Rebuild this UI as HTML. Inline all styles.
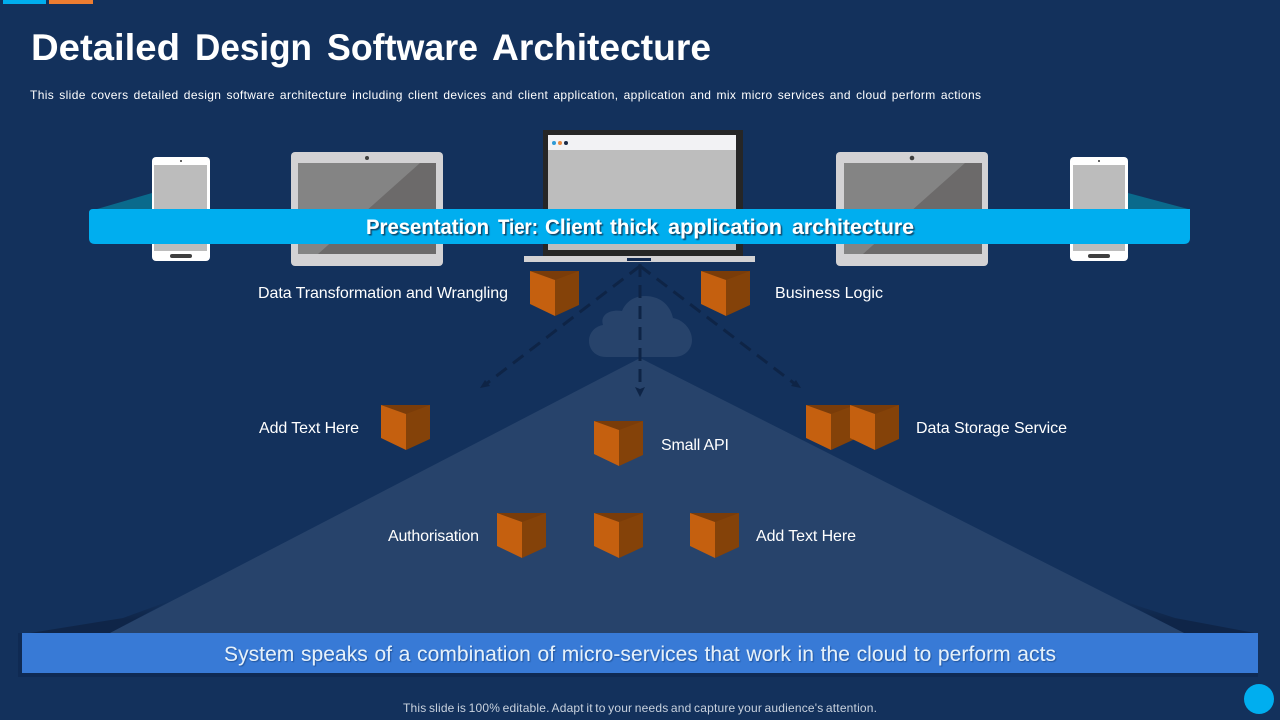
<!DOCTYPE html>
<html>
<head>
<meta charset="utf-8">
<style>
html,body{margin:0;padding:0;width:1280px;height:720px;overflow:hidden;background:#13315c}
svg{display:block}
text{font-family:"Liberation Sans",sans-serif;fill:#fff}
</style>
</head>
<body>
<svg width="1280" height="720" viewBox="0 0 1280 720" xmlns="http://www.w3.org/2000/svg">
<defs>
<g id="cube">
  <polygon points="0,0 49,0 49,34 25,45 25,9" fill="#844209"/>
  <polygon points="0,0 49,0 25,9" fill="#7a3c09"/>
  <polygon points="0,0 25,9 25,45 0,33" fill="#c5600f"/>
</g>
<linearGradient id="sh" x1="0" y1="0" x2="0" y2="1">
  <stop offset="0" stop-color="#13315c"/>
  <stop offset="0.6" stop-color="#0f2548"/>
</linearGradient>
<filter id="ds" x="-5%" y="-30%" width="110%" height="170%">
  <feDropShadow dx="1.5" dy="1.5" stdDeviation="0.6" flood-color="#0b3a5c" flood-opacity="0.9"/>
</filter>
<filter id="ds2" x="-5%" y="-30%" width="110%" height="170%">
  <feDropShadow dx="1" dy="1" stdDeviation="0.6" flood-color="#1d4f96" flood-opacity="0.9"/>
</filter>
</defs>

<rect width="1280" height="720" fill="#13315c"/>
<rect x="3" y="0" width="43" height="4" fill="#00aeef"/>
<rect x="49" y="0" width="44" height="4" fill="#ed7d31"/>

<g font-size="37" font-weight="bold">
<text x="31" y="60" textLength="149" lengthAdjust="spacingAndGlyphs">Detailed</text>
<text x="195" y="60" textLength="117" lengthAdjust="spacingAndGlyphs">Design</text>
<text x="327" y="60" textLength="151" lengthAdjust="spacingAndGlyphs">Software</text>
<text x="492" y="60" textLength="219" lengthAdjust="spacingAndGlyphs">Architecture</text>
</g>
<text x="30" y="99" font-size="12" word-spacing="1.5" textLength="951">This slide covers detailed design software architecture including client devices and client application, application and mix micro services and cloud perform actions</text>

<!-- shadows behind pyramid -->
<path d="M30,633 L123,618 L172,600 L110,633 Z" fill="url(#sh)"/>
<path d="M1255,633 L1175,618 L1120,600 L1184,633 Z" fill="url(#sh)"/>
<!-- pyramid -->
<polygon points="640,358 110,633 1184,633" fill="#27436b"/>
<!-- cloud -->
<path d="M606,357 C595,357 589,349 589,341 C589,332 596,326 603,325 C600,316 608,309 622,311 C626,301 635,296 645,296 C659,296 670,304 673,318 C684,320 692,330 692,340 C692,350 684,357 674,357 Z" fill="#27436b"/>

<!-- dashed arrows -->
<g stroke="#0e2446" stroke-width="3" fill="none" stroke-dasharray="13 8">
  <line x1="640" y1="266" x2="486" y2="384"/>
  <line x1="640" y1="266" x2="795" y2="384"/>
  <line x1="640" y1="264" x2="640" y2="390"/>
</g>
<polygon points="480,388 485,380 490,386" fill="#0e2446"/>
<polygon points="801,388 796,380 791,386" fill="#0e2446"/>
<polygon points="640,397 635,387 640,389 645,387" fill="#0e2446"/>

<!-- left teal wedge, right teal wedge -->
<polygon points="97,209 152,193 152,209" fill="#0a6a8c"/>
<polygon points="1128,193 1188,209 1128,209" fill="#0a6a8c"/>

<!-- left phone -->
<rect x="152" y="157" width="58" height="104" rx="4" fill="#fff"/>
<rect x="154" y="165" width="53" height="86" fill="#bcbcbc"/>
<circle cx="181" cy="161" r="1" fill="#333"/>
<rect x="170" y="254" width="22" height="4" rx="2" fill="#3f3f3f"/>
<!-- right phone -->
<rect x="1070" y="157" width="58" height="104" rx="4" fill="#fff"/>
<rect x="1073" y="165" width="52" height="86" fill="#bcbcbc"/>
<circle cx="1099" cy="161" r="1" fill="#333"/>
<rect x="1088" y="254" width="22" height="4" rx="2" fill="#3f3f3f"/>

<!-- left tablet -->
<rect x="291" y="152" width="152" height="114" rx="4" fill="#d3d2d4"/>
<rect x="298" y="163" width="138" height="91" fill="#848484"/>
<polygon points="420,163 436,163 436,254 318,254" fill="#6c6a6a"/>
<circle cx="367" cy="158" r="2" fill="#3f3f3f"/>
<!-- right tablet -->
<rect x="836" y="152" width="152" height="114" rx="4" fill="#d3d2d4"/>
<rect x="844" y="163" width="138" height="91" fill="#848484"/>
<polygon points="965,163 982,163 982,254 863,254" fill="#6c6a6a"/>
<circle cx="912" cy="158" r="2.3" fill="#3f3f3f"/>

<!-- laptop -->
<rect x="543" y="130" width="200" height="126" fill="#262626"/>
<rect x="548" y="135" width="188" height="115" fill="#bdbdbd"/>
<rect x="548" y="135" width="188" height="15" fill="#f2f2f4"/>
<circle cx="554" cy="143" r="2" fill="#2f9bd6"/>
<circle cx="560" cy="143" r="2" fill="#e8893f"/>
<circle cx="566" cy="143" r="2" fill="#1b2a45"/>
<rect x="524" y="256" width="231" height="6" fill="#d3d2d4"/>
<rect x="627" y="258" width="24" height="3" fill="#13294f"/>

<!-- presentation band -->
<path d="M89,213 Q89,209 93,209 L1190,209 L1190,238 Q1190,244 1184,244 L95,244 Q89,244 89,238 Z" fill="#00aeef"/>
<g font-size="21" font-weight="bold" filter="url(#ds)">
<text x="366" y="234" textLength="123" lengthAdjust="spacingAndGlyphs">Presentation</text>
<text x="498" y="234" textLength="40" lengthAdjust="spacingAndGlyphs">Tier:</text>
<text x="545" y="234" textLength="57" lengthAdjust="spacingAndGlyphs">Client</text>
<text x="610" y="234" textLength="48" lengthAdjust="spacingAndGlyphs">thick</text>
<text x="668" y="234" textLength="114" lengthAdjust="spacingAndGlyphs">application</text>
<text x="792" y="234" textLength="122" lengthAdjust="spacingAndGlyphs">architecture</text>
</g>

<!-- cubes -->
<use href="#cube" x="530" y="271"/>
<use href="#cube" x="701" y="271"/>
<use href="#cube" x="381" y="405"/>
<use href="#cube" x="594" y="421"/>
<use href="#cube" x="806" y="405"/>
<use href="#cube" x="850" y="405"/>
<use href="#cube" x="497" y="513"/>
<use href="#cube" x="594" y="513"/>
<use href="#cube" x="690" y="513"/>

<!-- labels -->
<g font-size="16">
<text x="258" y="298" textLength="250">Data Transformation and Wrangling</text>
<text x="775" y="298" textLength="108">Business Logic</text>
<text x="259" y="433" textLength="100">Add Text Here</text>
<text x="661" y="450" textLength="68">Small API</text>
<text x="916" y="433" textLength="151">Data Storage Service</text>
<text x="388" y="541" textLength="91">Authorisation</text>
<text x="756" y="541" textLength="100">Add Text Here</text>
</g>

<!-- bottom band -->
<rect x="18" y="633" width="1240" height="44" fill="#0f2a53"/>
<rect x="22" y="633" width="1236" height="40" fill="#387ad6"/>
<text x="224" y="661" font-size="21" word-spacing="0.7" textLength="832" filter="url(#ds2)" style="fill:#e4f1fb">System speaks of a combination of micro-services that work in the cloud to perform acts</text>

<text x="403" y="712" font-size="12" word-spacing="-1" textLength="474" style="fill:#c9d2de">This slide is 100% editable. Adapt it to your needs and capture your audience's attention.</text>

<circle cx="1259" cy="699" r="15" fill="#00aeef"/>
</svg>
</body>
</html>
